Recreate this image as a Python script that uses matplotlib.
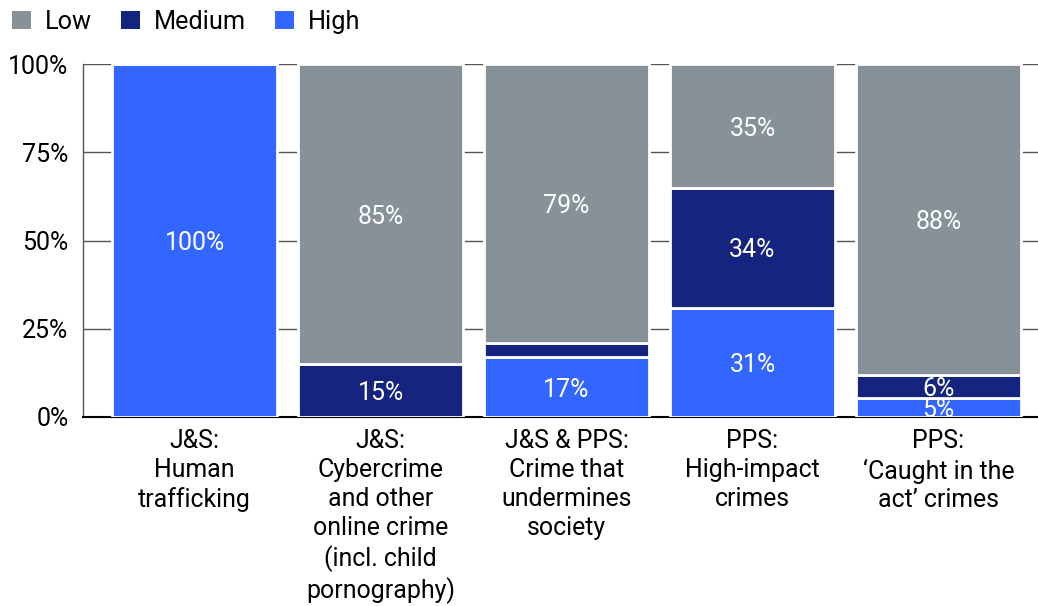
import matplotlib
matplotlib.use("Agg")
import matplotlib.pyplot as plt
from matplotlib.patches import Patch
import numpy as np

plt.rcParams['font.family'] = ['Roboto', 'DejaVu Sans']

categories = [
    "J&S:\nHuman\ntrafficking",
    "J&S:\nCybercrime\nand other\nonline crime\n(incl. child\npornography)",
    "J&S & PPS:\nCrime that\nundermines\nsociety",
    "PPS:\nHigh-impact\ncrimes",
    "PPS:\n\u2018Caught in the\nact\u2019 crimes",
]
high = [100, 0, 17, 31, 5.4]
medium = [0, 15, 4, 34, 6.4]
low = [0, 85, 79, 35, 88.2]
series_names = ["Low", "Medium", "High"]
y_ticks = [0, 25, 50, 75, 100]
y_tick_labels = ["0%", "25%", "50%", "75%", "100%"]

colors = {"Low": "#879298", "Medium": "#14247f", "High": "#3366ff"}

fig = plt.figure(figsize=(10.38, 6.06), dpi=100)
ax = fig.add_axes([83 / 1038, 1 - 417 / 606, 1 - 83 / 1038, (417 - 64) / 606])

x = np.arange(len(categories))
width = 0.887
bottoms = np.zeros(len(categories))
for name, vals in (("High", high), ("Medium", medium), ("Low", low)):
    vals = np.array(vals, dtype=float)
    ax.bar(x, vals, width, bottom=bottoms, color=colors[name],
           edgecolor="white", linewidth=2, zorder=3)
    for xi, b, v in zip(x, bottoms, vals):
        if v >= 5:
            ax.annotate(f"{v:.0f}%", (xi, b + v / 2), xytext=(0, -2),
                        textcoords="offset points", ha="center", va="center",
                        color="white", fontsize=18, zorder=4)
    bottoms += vals

ax.set_xlim(-0.6, 4.535)
ax.set_ylim(0, 100)
ax.set_yticks(y_ticks)
ax.set_yticklabels(y_tick_labels, fontsize=18)
ax.set_xticks(x)
ax.set_xticklabels(categories, fontsize=17.9, linespacing=1.25, va="top")
ax.tick_params(axis="both", length=0)
ax.tick_params(axis="y", pad=10.5)
ax.tick_params(axis="x", pad=9)
ax.yaxis.grid(True, color="#555555", linewidth=1, zorder=0)
ax.set_axisbelow(True)
for s in ("top", "right"):
    ax.spines[s].set_visible(False)
ax.spines["left"].set_color("#555555")
ax.spines["left"].set_linewidth(1)
ax.spines["bottom"].set_color("black")
ax.spines["bottom"].set_linewidth(1.5)

handles = [Patch(facecolor=colors[n], edgecolor="none", label=n) for n in series_names]
fig.legend(handles=handles, loc="upper left", bbox_to_anchor=(12 / 1038, 1 - 10 / 606),
           ncol=3, frameon=False, fontsize=18.2, handlelength=0.75, handleheight=0.75,
           handletextpad=0.55, columnspacing=1.15, borderpad=0, borderaxespad=0)

fig.savefig("out.png", dpi=100)
